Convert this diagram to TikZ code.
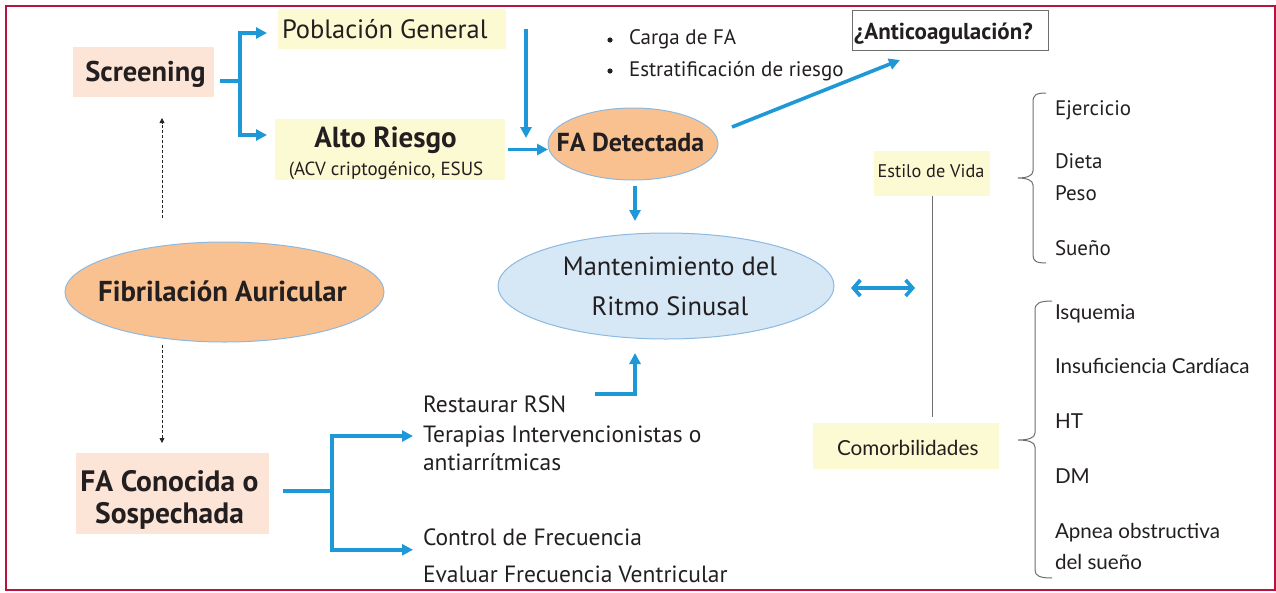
\documentclass[tikz,border=0pt]{standalone}
\usepackage{fontspec}
\setmainfont{PT Sans}
\newfontfamily\rfont{Lato}
\usetikzlibrary{arrows.meta,shapes.geometric,calc}
\definecolor{frameC}{RGB}{183,18,64}
\definecolor{salmon}{RGB}{252,228,214}
\definecolor{paleY}{RGB}{252,250,210}
\definecolor{orangeF}{RGB}{250,193,144}
\definecolor{ellB}{RGB}{140,185,225}
\definecolor{mantF}{RGB}{214,231,245}
\definecolor{arrB}{RGB}{30,152,214}
\definecolor{txt}{RGB}{35,31,32}
\definecolor{grayL}{RGB}{110,110,110}
\newcommand{\fs}[1]{\fontsize{#1}{#1}\selectfont}
\tikzset{
  box/.style={draw=none,inner sep=0pt,outer sep=0pt},
  salbox/.style={box,fill=salmon},
  yelbox/.style={box,fill=paleY},
  ell/.style={ellipse,draw=ellB,line width=1pt,inner sep=0pt,outer sep=0pt},
  txtn/.style={inner sep=0pt,outer sep=0pt,text=txt},
  rtxt/.style={txtn,anchor=base west,font=\rfont\fs{20.6}},
  ctxt/.style={txtn,anchor=base west,font=\fs{23.5}},
  arr/.style={draw=arrB,line width=3.6pt,-{Triangle[length=11pt,width=11pt]}},
  bline/.style={draw=arrB,line width=3.6pt},
  dasharr/.style={draw=black!85,line width=0.8pt,densely dashed,-{Triangle[length=5pt,width=5pt]}},
  brace/.style={draw=grayL,line width=1pt},
}
\begin{document}
\begin{tikzpicture}[x=1pt,y=-1pt]
\useasboundingbox (0,0) rectangle (1276,592);
\draw[frameC,line width=2.5pt] (6,6) rectangle (1275,590);

% boxes
\node[yelbox,minimum width=228pt,minimum height=40pt] (pob) at (392,29) {};
\node[salbox,minimum width=141pt,minimum height=50pt] (scr) at (143.5,72) {};
\node[yelbox,minimum width=230pt,minimum height=61pt] (alto) at (390,149.5) {};
\node[box,draw=grayL,line width=0.8pt,fill=white,minimum width=196pt,minimum height=40pt] (anti) at (950,30) {};
\node[ell,fill=orangeF,minimum width=170pt,minimum height=72pt] (fad) at (633,144) {};
\node[ell,fill=mantF,minimum width=336pt,minimum height=106pt] (mant) at (666,286) {};
\node[ell,fill=orangeF,minimum width=319pt,minimum height=100pt] (fib) at (224.5,292) {};
\node[salbox,minimum width=193pt,minimum height=81pt] (fac) at (172.5,493.5) {};
\node[yelbox,minimum width=116pt,minimum height=45pt] (est) at (932,173.5) {};
\node[yelbox,minimum width=186pt,minimum height=46pt] (com) at (906,446) {};

% texts
\node[txtn,anchor=base west,font=\fs{26.5}] (pobT) at (282,38) {Población General};
\node[txtn,anchor=base,font=\bfseries\fs{28.5}] (scrT) at (145.5,81) {Screening};
\node[txtn,anchor=base,font=\bfseries\fs{29}] (altoT) at (385.5,147) {Alto Riesgo};
\node[txtn,anchor=base,font=\fs{19}] (acvT) at (386,175) {(ACV criptogénico, ESUS};
\node[txtn,anchor=base west,font=\fs{21}] (carT) at (629,44) {Carga de FA};
\node[txtn,anchor=base west,font=\fs{21}] (estrT) at (629,76) {Estratificación de riesgo};
\fill[txt] (610,40) circle (2.6pt);
\fill[txt] (610,71) circle (2.6pt);
\node[txtn,anchor=base west,font=\bfseries\fs{23}] (antiT) at (854,39) {¿Anticoagulación?};
\node[txtn,anchor=base,font=\bfseries\fs{26}] (fadT) at (630.5,151) {FA Detectada};
\node[txtn,anchor=base,font=\fs{26.5}] (mant1) at (670,275) {Mantenimiento del};
\node[txtn,anchor=base,font=\fs{26.5}] (mant2) at (670,315) {Ritmo Sinusal};
\node[txtn,anchor=base,font=\bfseries\fs{28.8}] (fibT) at (222.5,301) {Fibrilación Auricular};
\node[txtn,anchor=base,font=\bfseries\fs{29.5}] (fac1) at (169.5,491) {FA Conocida o};
\node[txtn,anchor=base,font=\bfseries\fs{29.5}] (fac2) at (169.5,523) {Sospechada};
\node[ctxt] (rest) at (423,412) {Restaurar RSN};
\node[ctxt] (ter) at (423,442) {Terapias Intervencionistas o};
\node[ctxt] (anta) at (423,470) {antiarrítmicas};
\node[ctxt] (ctrl) at (423,545) {Control de Frecuencia};
\node[ctxt] (eval) at (423,582) {Evaluar Frecuencia Ventricular};
\node[txtn,anchor=base,font=\fs{18.3}] (estT) at (931,177) {Estilo de Vida};
\node[rtxt,font=\rfont\fs{20.7}] (comT) at (837,455) {Comorbilidades};
\node[txtn,anchor=base west,font=\fs{21}] (ej) at (1055,115) {Ejercicio};
\node[txtn,anchor=base west,font=\fs{21}] (di) at (1055,168) {Dieta};
\node[txtn,anchor=base west,font=\fs{21}] (pe) at (1055,200) {Peso};
\node[txtn,anchor=base west,font=\fs{21}] (su) at (1055,255) {Sueño};
\node[rtxt] (isq) at (1055,319) {Isquemia};
\node[rtxt] (ins) at (1055,373) {Insuficiencia Cardíaca};
\node[rtxt] (ht) at (1055,428) {HT};
\node[rtxt] (dm) at (1055,483) {DM};
\node[rtxt] (ap1) at (1055,538) {Apnea obstructiva};
\node[rtxt] (ap2) at (1055,569) {del sueño};

% connectors
\coordinate (f1) at (240,81);
\draw[bline] ([xshift=6pt,yshift=-9pt]scr.east) -- ([xshift=1.8pt]f1);
\draw[arr] (f1) |- ([xshift=-11pt,yshift=-4pt]pob.west);
\draw[arr] (f1) |- ([xshift=-8pt,yshift=14.5pt]alto.west);
\coordinate (pv) at (526,29);
\draw[arr] (pv) -- ([xshift=-107pt,yshift=6pt]fad.center);
\draw[arr] ([xshift=3pt]alto.east) -- (alto.east -| fad.west);
\draw[arr] ([xshift=14pt,yshift=17pt]fad.east) -- ([xshift=-50pt,yshift=-10pt]anti.south);
\draw[arr] ([xshift=2pt,yshift=-6pt]fad.south) -- ++(0,35);
\draw[draw=arrB,line width=3.6pt,{Straight Barb[length=7pt,width=16pt]}-{Straight Barb[length=7pt,width=16pt]}] ([xshift=17pt,yshift=-2pt]mant.east) -- ++(64,0);
\draw[draw=grayL,line width=1pt] (est.south) -- ([yshift=6pt]est.south |- com.north);
\draw[dasharr] ([xshift=-62.5pt,yshift=24pt]fib.north) -- ++(0,-100);
\draw[dasharr] ([xshift=-62.5pt,yshift=-3pt]fib.south) -- ++(0,98);
\coordinate (f2) at (332,491);
\draw[bline] ([xshift=14pt,yshift=2.5pt]fac.east) -- ([xshift=1.8pt]f2);
\draw[arr] (f2) |- ([xshift=-10pt]ter.west);
\draw[arr] (f2) |- ([xshift=-10pt,yshift=-13pt]ctrl.west);
\coordinate (e1) at (595,394);
\draw[arr] (e1) -| ([xshift=-31pt,yshift=-14pt]mant.south);

% braces
\draw[brace] (1046,93) .. controls (1036,93) and (1033,95) .. (1033,102) -- (1033,171) .. controls (1033,176) and (1026,178) .. (1018,178) .. controls (1026,178) and (1033,180) .. (1033,185) -- (1033,255) .. controls (1033,261) and (1036,263) .. (1046,263);
\draw[brace] (1052,301) .. controls (1040,301) and (1035,303) .. (1035,310) -- (1035,433) .. controls (1035,438) and (1028,440) .. (1018,440) .. controls (1028,440) and (1035,442) .. (1035,447) -- (1035,570) .. controls (1035,576) and (1040,578) .. (1052,578);
\end{tikzpicture}
\end{document}
